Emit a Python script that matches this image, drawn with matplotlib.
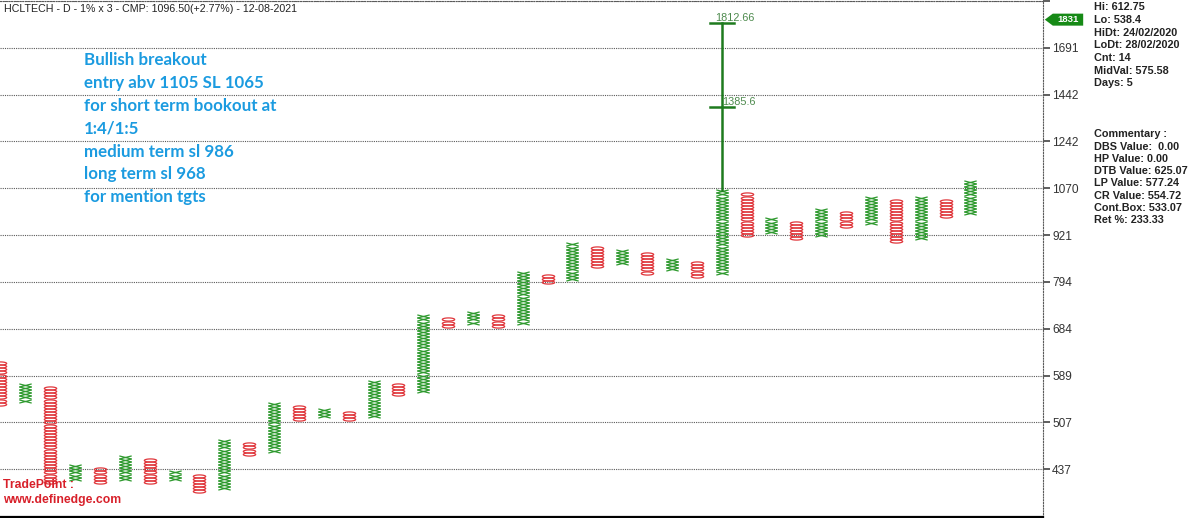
import matplotlib
matplotlib.use("Agg")
import matplotlib.pyplot as plt
import numpy as np
from matplotlib.path import Path
from matplotlib.ticker import FixedLocator, FixedFormatter, NullLocator
from matplotlib.transforms import blended_transform_factory

# Point & figure data, 1% box x 3 reversal
base_price = 437.0
box_pct = 1.0
# box index (from base price) of the lowest and highest box of each column
col_low = [21, 22, -4, -3, -4, -3, -4, -3, -7, -6, 5, 6, 16, 17, 16, 17, 24, 25, 46, 47,
           46, 47, 60, 61, 65, 66, 63, 64, 62, 63, 75, 76, 74, 75, 78, 79, 73, 74, 81, 82]
col_high = [34, 27, 26, 1, 0, 4, 3, -1, -2, 9, 8, 21, 20, 19, 18, 28, 27, 49, 48, 50,
            49, 63, 62, 72, 71, 70, 69, 67, 66, 89, 88, 80, 79, 83, 82, 87, 86, 87, 86, 92]
col_kind = ["O" if i % 2 == 0 else "X" for i in range(len(col_low))]

tick_labels = ["437", "507", "589", "684", "794", "921", "1070", "1242", "1442", "1691"]
grid_every = 15  # boxes between grid lines

target_col = 29
targets = [1385.6, 1812.66]
tag_value = 1831

title = "HCLTECH - D - 1% x 3 - CMP: 1096.50(+2.77%) - 12-08-2021"
note_lines = ["Bullish breakout", "entry abv 1105 SL 1065", "for short term bookout at",
              "1:4/1:5", "medium term sl 986", "long term sl 968", "for mention tgts"]
stats_lines = ["Hi: 612.75", "Lo: 538.4", "HiDt: 24/02/2020", "LoDt: 28/02/2020",
               "Cnt: 14", "MidVal: 575.58", "Days: 5"]
comment_lines = ["Commentary :", "DBS Value:  0.00", "HP Value: 0.00", "DTB Value: 625.07",
                 "LP Value: 577.24", "CR Value: 554.72", "Cont.Box: 533.07", "Ret %: 233.33"]


def box_price(k):
    return base_price * (1 + box_pct / 100.0) ** np.asarray(k, dtype=float)


W, H = 1200, 518
fig = plt.figure(figsize=(W / 100, H / 100), dpi=100)
ax = fig.add_axes([0, 1 - 516.7 / H, 1043 / W, (516.7 - 0.85) / H])
ax.set_yscale("log")
ax.set_ylim(box_price(-15.18), box_price(150))
ax.set_xlim(-0.02, 41.92)

# custom markers: flat oval and flat cross, one box tall
r = 0.254
t = np.linspace(0, 2 * np.pi, 40)
o_marker = Path(np.column_stack([np.cos(t), r * np.sin(t)]), closed=True)
x_marker = Path([(-1, -r), (1, r), (-1, r), (1, -r)],
                [Path.MOVETO, Path.LINETO, Path.MOVETO, Path.LINETO])

green = "#2f9a2f"
red = "#e0373c"
for i, (lo, hi, kind) in enumerate(zip(col_low, col_high, col_kind)):
    ks = np.arange(lo, hi + 1)
    if kind == "X":
        ax.plot(np.full(len(ks), i), box_price(ks), linestyle="none", marker=x_marker,
                markersize=8.9, markeredgecolor=green, markeredgewidth=0.9, zorder=3)
    else:
        ax.plot(np.full(len(ks), i), box_price(ks), linestyle="none", marker=o_marker,
                markersize=8.9, markeredgecolor=red, markerfacecolor="none",
                markeredgewidth=0.9, zorder=3)

# vertical count target
tcol = "#1e7b1e"
ax.plot([target_col, target_col], [box_price(col_high[target_col] + 0.5), max(targets)],
        color=tcol, lw=1.8, zorder=4)
for tv in targets:
    ax.plot([target_col - 0.49, target_col + 0.49], [tv, tv], color=tcol, lw=1.8, zorder=4)
ax.annotate(f"{targets[1]:g}", (target_col, targets[1]), xytext=(-5, 0),
            textcoords="offset points", fontsize=7.8, color="#4d8a4d",
            family="Liberation Sans", va="bottom", ha="left")
ax.annotate(f"{targets[0]:g}", (target_col, targets[0]), xytext=(0, 0),
            textcoords="offset points", fontsize=7.8, color="#4d8a4d",
            family="Liberation Sans", va="bottom", ha="left")

# axis styling
grid_ticks = box_price(np.arange(0, 151, grid_every))
ax.yaxis.set_major_locator(FixedLocator(grid_ticks))
ax.yaxis.set_major_formatter(FixedFormatter(tick_labels + [""]))
ax.yaxis.set_minor_locator(NullLocator())
ax.yaxis.tick_right()
ax.tick_params(axis="y", which="major", length=5, width=1.1, color="#333333", pad=1.5,
               labelsize=8.6, labelcolor="#333333")
ax.set_xticks([])
for lbl in ax.get_yticklabels():
    lbl.set_family("Liberation Sans")
ax.grid(True, axis="y", linestyle=(0, (1, 1)), color="#5a5a5a", lw=0.8)
ax.spines["left"].set_visible(False)
ax.spines["top"].set_linestyle((0, (1, 1.5)))
ax.spines["top"].set_color("#5a5a5a")
ax.spines["right"].set_linestyle((0, (1, 1.5)))
ax.spines["right"].set_color("#5a5a5a")
ax.spines["bottom"].set_color("black")
ax.spines["bottom"].set_linewidth(1.6)


# green price tag on the axis
def tag_box(x0, y0, width, height, mutation_size):
    px, py, tip = 4.5, 1.5, 8.0
    x0, y0 = x0 - px, y0 - py
    x1, y1 = x0 + width + 2 * px, y0 + height + 2 * py
    return Path([(x0 - tip, (y0 + y1) / 2), (x0, y1), (x1, y1), (x1, y0), (x0, y0),
                 (x0 - tip, (y0 + y1) / 2)], closed=True)


tr = blended_transform_factory(ax.transAxes, ax.transData)
ax.text(1068 / 1043, tag_value, str(tag_value), transform=tr, ha="center", va="center",
        fontsize=6.8, fontweight="bold", color="white", family="Liberation Sans",
        bbox=dict(boxstyle=tag_box, fc="#168a16", ec="none"), clip_on=False)


def fy(py):
    return 1 - py / H


fig.text(4 / W, fy(9), title, fontsize=7.7, color="#222222", family="Liberation Sans",
         va="center", ha="left")
for i, line in enumerate(note_lines):
    fig.text(84 / W, fy(60 + 22.9 * i), line, fontsize=12.2, fontweight="bold",
             color="#1b9be0", family="Lato", va="center", ha="left")
for i, line in enumerate(stats_lines):
    fig.text(1094 / W, fy(7.3 + 12.67 * i), line, fontsize=7.8, fontweight="bold",
             color="#222222", family="Liberation Sans", va="center", ha="left")
for i, line in enumerate(comment_lines):
    fig.text(1094 / W, fy(134.3 + 12.3 * i), line, fontsize=7.8, fontweight="bold",
             color="#222222", family="Liberation Sans", va="center", ha="left")
fig.text(3 / W, fy(485), "TradePoint :", fontsize=8.8, fontweight="bold", color="#d8202a",
         family="Liberation Sans", va="center", ha="left")
fig.text(3 / W, fy(499.5), "www.definedge.com", fontsize=8.8, fontweight="bold",
         color="#d8202a", family="Liberation Sans", va="center", ha="left")

fig.savefig("out.png", dpi=100)
